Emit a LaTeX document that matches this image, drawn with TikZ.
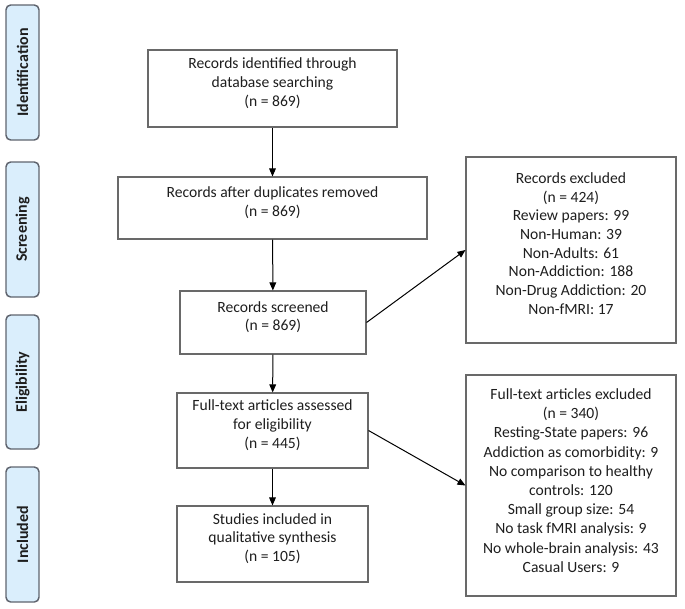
\documentclass[tikz,border=0pt]{standalone}
\usepackage{fontspec}
\setmainfont{Carlito}
\usetikzlibrary{fit,arrows.meta}
\definecolor{phasefill}{RGB}{218,238,252}
\definecolor{phaseline}{RGB}{95,100,110}
\definecolor{boxline}{RGB}{105,105,105}
\definecolor{txt}{RGB}{30,30,30}
\begin{document}
\begin{tikzpicture}[x=0.75pt,y=-0.75pt,
  box/.style={draw=boxline,line width=0.8pt,inner sep=0pt,align=center,
    font=\fontsize{11.7}{14}\selectfont,text=txt},
  boxtext/.style={inner sep=0pt,align=center,font=\fontsize{11.7}{14}\selectfont,text=txt},
  phase/.style={draw=phaseline,fill=phasefill,line width=1.1pt,rounded corners=3.5pt,inner sep=0pt},
  phasetext/.style={rotate=90,font=\fontsize{12}{14}\selectfont\bfseries,text=txt,inner sep=0pt},
  arr/.style={draw=black,line width=0.75pt,-{Triangle[length=6pt,width=5pt]}}]
\useasboundingbox (0,0) rectangle (685,608);

% phase labels
\node[phase,fit={(6,5) (39,140)}] (p1) {};
\node[phasetext] (p1t) at (p1.center) {Identification};
\node[phase,fit={(6,162) (39,297)}] (p2) {};
\node[phasetext] (p2t) at (p2.center) {Screening};
\node[phase,fit={(6,315) (39,449)}] (p3) {};
\node[phasetext] (p3t) at (p3.center) {Eligibility};
\node[phase,fit={(6,467) (39,602)}] (p4) {};
\node[phasetext] (p4t) at (p4.center) {Included};

% main column
\node[box,fit={(148,50) (397,127)}] (b1) {Records identified through\\database searching\\(n = 869)};
\node[box,fit={(118,177) (427,239)}] (b2) {Records after duplicates removed\\(n = 869)};
\node[box,fit={(180,291) (366,354)}] (b3) {Records screened\\(n = 869)};
\node[box,fit={(177,393) (368,468)}] (b4) {Full-text articles assessed\\for eligibility\\(n = 445)};
\node[box,fit={(177,506) (368,582)}] (b5) {Studies included in\\qualitative synthesis\\(n = 105)};

% right column
\node[box,fit={(466,157) (676,343)}] (r1) {};
\node[boxtext,anchor=north] (r1t) at ([yshift=-12pt]r1.north)
  {Records excluded\\(n = 424)\\Review papers: 99\\Non-Human: 39\\Non-Adults: 61\\Non-Addiction: 188\\Non-Drug Addiction: 20\\Non-fMRI: 17};
\node[box,fit={(466,375) (676,596)}] (r2) {};
\node[boxtext,anchor=north,font=\fontsize{11.7}{14.4}\selectfont] (r2t) at ([yshift=-10.5pt]r2.north)
  {Full-text articles excluded\\(n = 340)\\Resting-State papers: 96\\Addiction as comorbidity: 9\\No comparison to healthy\\controls: 120\\Small group size: 54\\No task fMRI analysis: 9\\No whole-brain analysis: 43\\Casual Users: 9};

% connectors
\draw[arr] (b1) -- (b2);
\draw[arr] (b2) -- (b3);
\draw[arr] (b3) -- (b4);
\draw[arr] (b4) -- (b5);
\draw[arr] (b3.east) -- (r1.west);
\draw[arr] (b4.east) -- (r2.west);
\end{tikzpicture}
\end{document}
